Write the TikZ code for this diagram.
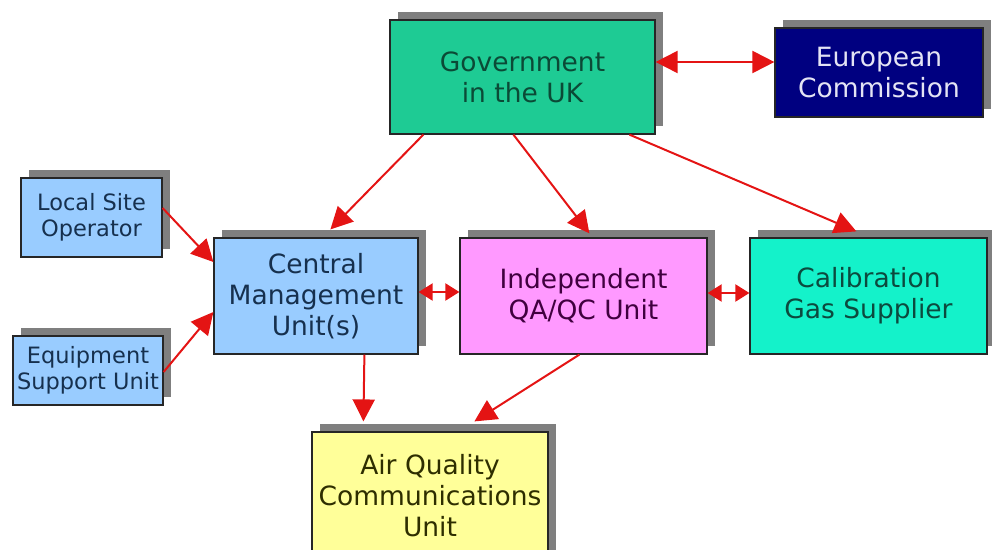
\documentclass[tikz,border=0pt]{standalone}
\usepackage{fontspec}
\setmainfont{DejaVu Sans}
\usetikzlibrary{arrows.meta,shadows,calc}
\definecolor{arrred}{HTML}{E41414}
\definecolor{shadowgray}{HTML}{7F7F7F}
\definecolor{govfill}{HTML}{1ECB94}
\definecolor{govtext}{HTML}{0B4A36}
\definecolor{ecfill}{HTML}{000080}
\definecolor{ectext}{HTML}{E4E4F4}
\definecolor{bluefill}{HTML}{99CCFF}
\definecolor{bluetext}{HTML}{16304E}
\definecolor{pinkfill}{HTML}{FF99FF}
\definecolor{pinktext}{HTML}{40003F}
\definecolor{calfill}{HTML}{14F2CA}
\definecolor{caltext}{HTML}{0C4A3E}
\definecolor{yelfill}{HTML}{FFFF99}
\definecolor{yeltext}{HTML}{2E2E00}
\tikzset{
  box/.style={draw=black!85, line width=1.2pt, align=center, inner sep=0pt,
    drop shadow={shadow xshift=8pt, shadow yshift=8pt, fill=shadowgray, opacity=1},
    font=\fontsize{26.5}{31}\selectfont},
  smallbox/.style={box, font=\fontsize{22.5}{26}\selectfont},
  arr/.style={draw=arrred, line width=2pt, -{Triangle[length=22pt,width=22pt]}, arrred},
  darr/.style={draw=arrred, line width=2pt, {Triangle[length=22pt,width=22pt]}-{Triangle[length=22pt,width=22pt]}, arrred},
  sdarr/.style={draw=arrred, line width=2pt, {Triangle[length=14pt,width=17pt]}-{Triangle[length=14pt,width=17pt]}, arrred}
}
\begin{document}
\begin{tikzpicture}[x=1pt,y=-1pt]
\useasboundingbox (0,0) rectangle (992,549);
\begin{scope}
\clip (0,0) rectangle (992,549);
\node[box, fill=govfill, text=govtext, minimum width=265pt, minimum height=114pt] (gov) at (522.5,77) {Government\\in the UK};
\node[box, fill=ecfill, text=ectext, minimum width=208pt, minimum height=89pt] (ec) at (879,72.5) {European\\Commission};
\node[smallbox, fill=bluefill, text=bluetext, minimum width=141pt, minimum height=79pt] (lso) at (91.5,217.5) {Local Site\\Operator};
\node[smallbox, fill=bluefill, text=bluetext, minimum width=150pt, minimum height=69pt] (esu) at (88,370.5) {Equipment\\Support Unit};
\node[box, fill=bluefill, text=bluetext, minimum width=204pt, minimum height=116pt] (cmu) at (316,296) {Central\\Management\\Unit(s)};
\node[box, fill=pinkfill, text=pinktext, minimum width=247pt, minimum height=116pt] (iqa) at (583.5,296) {Independent\\QA/QC Unit};
\node[box, fill=calfill, text=caltext, minimum width=237pt, minimum height=116pt] (cal) at (868.5,296) {Calibration\\Gas Supplier};
\node[box, fill=yelfill, text=yeltext, minimum width=236pt, minimum height=128pt] (aqc) at (430,496) {Air Quality\\Communications\\Unit};

\draw[arr] ([xshift=34pt]gov.south west) -- ([xshift=117pt,yshift=8pt]cmu.north west);
\draw[arr] ([xshift=124pt]gov.south west) -- ([xshift=130pt,yshift=4pt]iqa.north west);
\draw[arr] ([xshift=240pt]gov.south west) -- ([xshift=107pt,yshift=6pt]cal.north west);
\draw[darr] ([yshift=15pt]gov.east) -- ([yshift=10.5pt]ec.west);
\draw[arr] ([yshift=9.5pt]lso.east) -- ([yshift=34pt]cmu.west);
\draw[arr] ([yshift=-1.5pt]esu.east) -- ([yshift=-16pt]cmu.west);
\draw[sdarr] ([yshift=4pt]cmu.east) -- ([yshift=4pt]iqa.west);
\draw[sdarr] ([yshift=3pt]iqa.east) -- ([yshift=3pt]cal.west);
\draw[arr] ([xshift=151pt]cmu.south west) -- ([xshift=52pt,yshift=10pt]aqc.north west);
\draw[arr] ([xshift=120pt]iqa.south west) -- ([xshift=163pt,yshift=10pt]aqc.north west);
\end{scope}
\end{tikzpicture}
\end{document}
